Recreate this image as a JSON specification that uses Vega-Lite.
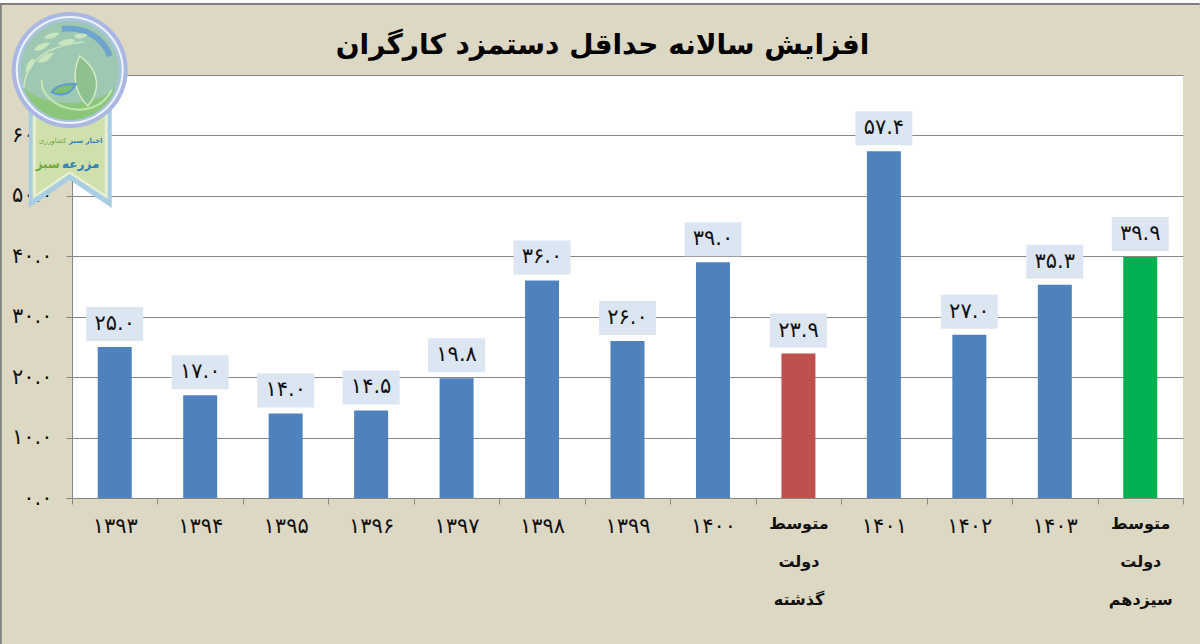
{
  "$schema": "https://vega.github.io/schema/vega-lite/v6.json",
  "width": 1111,
  "height": 423,
  "autosize": "none",
  "padding": {"left": 72, "top": 75, "right": 17, "bottom": 146},
  "background": "#DDD8C3",
  "view": {"fill": "#FFFFFF", "stroke": null},
  "title": {
    "text": "افزایش سالانه حداقل دستمزد کارگران",
    "font": "DejaVu Sans",
    "fontSize": 28,
    "fontWeight": "bold",
    "color": "#000000",
    "anchor": "middle",
    "frame": "group",
    "dx": -25,
    "dy": 63,
    "offset": 3
  },
  "datasets": {
    "wage": [
      {"year": "۱۳۹۳", "rise": 25.0, "label": "۲۵.۰", "kind": "سال"},
      {"year": "۱۳۹۴", "rise": 17.0, "label": "۱۷.۰", "kind": "سال"},
      {"year": "۱۳۹۵", "rise": 14.0, "label": "۱۴.۰", "kind": "سال"},
      {"year": "۱۳۹۶", "rise": 14.5, "label": "۱۴.۵", "kind": "سال"},
      {"year": "۱۳۹۷", "rise": 19.8, "label": "۱۹.۸", "kind": "سال"},
      {"year": "۱۳۹۸", "rise": 36.0, "label": "۳۶.۰", "kind": "سال"},
      {"year": "۱۳۹۹", "rise": 26.0, "label": "۲۶.۰", "kind": "سال"},
      {"year": "۱۴۰۰", "rise": 39.0, "label": "۳۹.۰", "kind": "سال"},
      {"year": "متوسط|دولت|گذشته", "rise": 23.9, "label": "۲۳.۹", "kind": "گذشته"},
      {"year": "۱۴۰۱", "rise": 57.4, "label": "۵۷.۴", "kind": "سال"},
      {"year": "۱۴۰۲", "rise": 27.0, "label": "۲۷.۰", "kind": "سال"},
      {"year": "۱۴۰۳", "rise": 35.3, "label": "۳۵.۳", "kind": "سال"},
      {"year": "متوسط|دولت|سیزدهم", "rise": 39.9, "label": "۳۹.۹", "kind": "سیزدهم"}
    ],
    "badge": [{"year": "۱۳۹۳", "rise": 70}]
  },
  "data": {"name": "wage"},
  "encoding": {
    "x": {
      "field": "year",
      "type": "nominal",
      "sort": null,
      "title": null,
      "scale": {
        "domain": ["۱۳۹۳", "۱۳۹۴", "۱۳۹۵", "۱۳۹۶", "۱۳۹۷", "۱۳۹۸", "۱۳۹۹", "۱۴۰۰", "متوسط|دولت|گذشته", "۱۴۰۱", "۱۴۰۲", "۱۴۰۳", "متوسط|دولت|سیزدهم"],
        "paddingInner": 0,
        "paddingOuter": 0
      },
      "axis": {
        "labelAngle": 0,
        "labelFont": "DejaVu Sans",
        "labelFontSize": {"condition": {"test": "isString(datum.value) && indexof(datum.value, '|') >= 0", "value": 16}, "value": 21},
        "labelFontWeight": {"condition": {"test": "isString(datum.value) && indexof(datum.value, '|') >= 0", "value": "bold"}, "value": "normal"},
        "labelColor": "#111111",
        "labelExpr": "isString(datum.value) ? split(datum.value, '|') : ''",
        "labelLineHeight": 38,
        "labelPadding": 11,
        "labelBaseline": "top",
        "domainColor": "#868686",
        "tickColor": "#868686",
        "tickSize": 6,
        "tickBand": "extent",
        "grid": false
      }
    },
    "y": {
      "field": "rise",
      "type": "quantitative",
      "title": null,
      "scale": {"domain": [0, 70], "nice": false},
      "axis": {
        "values": [0, 10, 20, 30, 40, 50, 60, 70],
        "labelExpr": "['۰.۰','۱۰.۰','۲۰.۰','۳۰.۰','۴۰.۰','۵۰.۰','۶۰.۰','۷۰.۰'][datum.value / 10]",
        "labelFont": "DejaVu Sans",
        "labelFontSize": 21,
        "labelColor": "#111111",
        "labelPadding": 14,
        "domainColor": "#868686",
        "tickColor": "#868686",
        "tickSize": 6,
        "gridColor": "#868686",
        "gridWidth": 1,
        "grid": true
      }
    }
  },
  "layer": [
    {
      "mark": {"type": "bar", "width": 34},
      "encoding": {
        "color": {
          "field": "kind",
          "type": "nominal",
          "legend": null,
          "scale": {"domain": ["سال", "گذشته", "سیزدهم"], "range": ["#4F81BD", "#C0504D", "#00B050"]}
        }
      }
    },
    {
      "mark": {"type": "rect", "width": 57, "fill": "#DCE6F2", "yOffset": -40, "y2Offset": -6},
      "encoding": {"y2": {"field": "rise"}}
    },
    {
      "mark": {"type": "text", "font": "DejaVu Sans", "fontSize": 21, "color": "#111111", "baseline": "middle", "yOffset": -23},
      "encoding": {"text": {"field": "label"}}
    },
    {
      "data": {"name": "badge"},
      "layer": [
        {"mark": {"type": "point", "shape": "M0,0H1200V4H0Z", "size": 4, "filled": true, "fill": "#FFFFFF", "opacity": 1, "xOffset": -115, "yOffset": -75}},
        {"mark": {"type": "point", "shape": "M1,644V4H1200", "size": 4, "filled": false, "stroke": "#7F7F7F", "strokeWidth": 2, "opacity": 1, "xOffset": -115, "yOffset": -75}},
        {"mark": {"type": "point", "shape": "M29,110H112V208L70,180L29,208Z", "size": 4, "filled": true, "fill": "#A9CDE3", "opacity": 1, "xOffset": -115, "yOffset": -75}},
        {"mark": {"type": "point", "shape": "M33,110H108V199L70,174L33,199Z", "size": 4, "filled": true, "fill": "#E6F0D0", "opacity": 1, "xOffset": -115, "yOffset": -75}},
        {"mark": {"type": "point", "shape": "M36,110H105V194L70,171L36,194Z", "size": 4, "filled": true, "fill": "#CFE0AC", "opacity": 1, "xOffset": -115, "yOffset": -75}},
        {"mark": {"type": "point", "shape": "M12,70A58,58 0 1,0 128,70A58,58 0 1,0 12,70Z", "size": 4, "filled": true, "fill": "#A9B7E2", "opacity": 1, "xOffset": -115, "yOffset": -75}},
        {"mark": {"type": "point", "shape": "M16,70A54,54 0 1,0 124,70A54,54 0 1,0 16,70Z", "size": 4, "filled": true, "fill": "#EEF3FA", "opacity": 1, "xOffset": -115, "yOffset": -75}},
        {"mark": {"type": "point", "shape": "M18,70A52,52 0 1,0 122,70A52,52 0 1,0 18,70Z", "size": 4, "filled": true, "fill": "#A9C4DC", "opacity": 1, "xOffset": -115, "yOffset": -75}},
        {"mark": {"type": "point", "shape": "M21,70A49,49 0 1,0 119,70A49,49 0 1,0 21,70Z", "size": 4, "filled": true, "fill": "#9FC8B2", "opacity": 1, "xOffset": -115, "yOffset": -75}},
        {"mark": {"type": "point", "shape": "M24,88C45,108 95,108 116,88A49,49 0 0,1 24,88Z", "size": 4, "filled": true, "fill": "#8CC67A", "opacity": 1, "xOffset": -115, "yOffset": -75}},
        {"mark": {"type": "point", "shape": "M62,29C85,26 104,38 110,56", "size": 4, "filled": false, "stroke": "#6FA5CC", "strokeWidth": 6, "opacity": 1, "xOffset": -115, "yOffset": -75}},
        {"mark": {"type": "point", "shape": "M42,80C40,108 95,125 112,90", "size": 4, "filled": false, "stroke": "#C4E6B0", "strokeWidth": 2, "opacity": 1, "xOffset": -115, "yOffset": -75}},
        {"mark": {"type": "point", "shape": "M80,56C72,72 74,92 88,106C100,92 102,72 80,56Z", "size": 4, "filled": true, "fill": "#8FC08F", "stroke": "#D4EBC4", "strokeWidth": 1.5, "opacity": 1, "xOffset": -115, "yOffset": -75}},
        {"mark": {"type": "point", "shape": "M52,92C58,84 68,84 76,84C72,92 64,98 52,92Z", "size": 4, "filled": true, "fill": "#7FBF70", "stroke": "#5D9BD0", "strokeWidth": 2, "opacity": 1, "xOffset": -115, "yOffset": -75}},
        {"mark": {"type": "point", "shape": "M24,88C26,62 45,46 84,42", "size": 4, "filled": false, "stroke": "#C9E6BF", "strokeWidth": 1.5, "opacity": 1, "xOffset": -115, "yOffset": -75}},
        {"mark": {"type": "point", "shape": "M44,38C48,33 54,32 60,33C56,38 50,40 44,38ZM58,44C63,39 70,38 76,40C71,45 64,47 58,44ZM34,50C38,44 44,42 50,43C46,49 40,52 34,50ZM74,36C78,33 84,33 88,35C84,39 78,40 74,36ZM38,62C42,55 48,53 54,53C50,60 44,64 38,62ZM26,72C26,64 30,60 34,58C35,65 32,70 26,72Z", "size": 4, "filled": true, "fill": "#C9E6BF", "opacity": 1, "xOffset": -115, "yOffset": -75}},
        {"mark": {"type": "text", "text": "اخبار سبز", "font": "DejaVu Sans", "fontSize": 7, "fontWeight": "bold", "color": "#2F7FB8", "align": "center", "baseline": "middle", "xOffset": -29, "yOffset": 66}},
        {"mark": {"type": "text", "text": "کشاورزی", "font": "DejaVu Sans", "fontSize": 7, "color": "#6FA83A", "align": "center", "baseline": "middle", "xOffset": -62, "yOffset": 66}},
        {"mark": {"type": "text", "text": "مزرعه", "font": "DejaVu Sans", "fontSize": 12, "fontWeight": "bold", "color": "#2F7FB8", "align": "center", "baseline": "middle", "xOffset": -34, "yOffset": 89}},
        {"mark": {"type": "text", "text": "سبز", "font": "DejaVu Sans", "fontSize": 12, "fontWeight": "bold", "color": "#6FA83A", "align": "center", "baseline": "middle", "xOffset": -67, "yOffset": 89}}
      ]
    }
  ]
}
